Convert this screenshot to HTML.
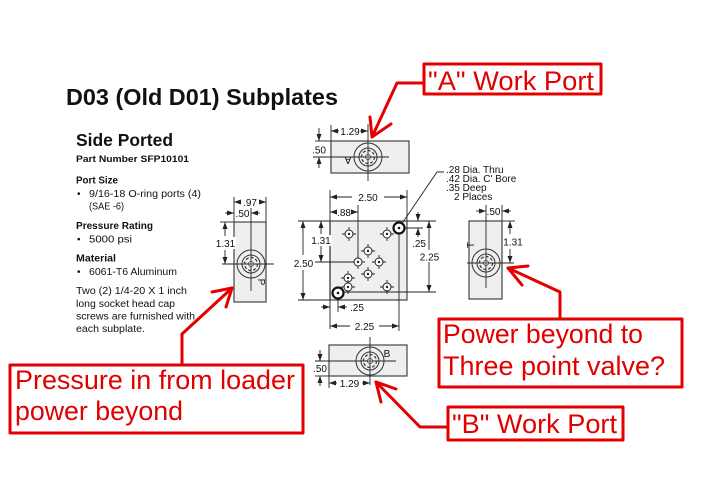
<!DOCTYPE html>
<html><head><meta charset="utf-8"><style>
html,body{margin:0;padding:0;background:#fff;}
svg{display:block;}
</style></head><body>
<svg width="717" height="504" viewBox="0 0 717 504" xmlns="http://www.w3.org/2000/svg" font-family="Liberation Sans, Arial, sans-serif">
<defs>
<marker id="ar" markerWidth="7" markerHeight="5" refX="7" refY="2.5" orient="auto" markerUnits="userSpaceOnUse"><path d="M0,0 L7,2.5 L0,5 z" fill="#222"/></marker>
<g id="port">
  <circle r="14" fill="none" stroke="#333" stroke-width="1"/>
  <circle r="9" fill="none" stroke="#333" stroke-width="1"/>
  <circle r="6.5" fill="none" stroke="#333" stroke-width="1.2" stroke-dasharray="3,2"/>
  <circle r="2.5" fill="#fff" stroke="#333" stroke-width="0.8"/>
  <path d="M-2,0 H2 M0,-2 V2" stroke="#222" stroke-width="0.8"/>
</g>
<g id="hole">
  <circle r="4" fill="#fff" stroke="#222" stroke-width="1"/>
  <circle r="1.2" fill="#222"/>
  <path d="M-7,0 H-4 M4,0 H7 M0,-7 V-4 M0,4 V7" stroke="#222" stroke-width="0.9"/>
</g>
<g id="big">
  <circle r="5.5" fill="#fff" stroke="#111" stroke-width="2.2"/>
  <circle r="1.3" fill="#111"/>
</g>
</defs>
<rect width="717" height="504" fill="#fff"/>

<!-- Title & left column -->
<text x="66" y="105" font-size="23.5" font-weight="bold" fill="#111" textLength="272" lengthAdjust="spacingAndGlyphs">D03 (Old D01) Subplates</text>
<text x="76" y="146" font-size="17.5" font-weight="bold" fill="#111" textLength="97" lengthAdjust="spacingAndGlyphs">Side Ported</text>
<text x="76" y="162" font-size="9.5" font-weight="bold" fill="#111" textLength="113" lengthAdjust="spacingAndGlyphs">Part Number SFP10101</text>
<text x="76" y="183.5" font-size="10" font-weight="bold" fill="#111" textLength="42" lengthAdjust="spacingAndGlyphs">Port Size</text>
<text x="77" y="197" font-size="10" fill="#111">•</text>
<text x="89" y="197" font-size="10" fill="#111" textLength="112" lengthAdjust="spacingAndGlyphs">9/16-18 O-ring ports (4)</text>
<text x="89" y="209.5" font-size="10" fill="#111" textLength="35" lengthAdjust="spacingAndGlyphs">(SAE -6)</text>
<text x="76" y="229" font-size="10" font-weight="bold" fill="#111" textLength="77" lengthAdjust="spacingAndGlyphs">Pressure Rating</text>
<text x="77" y="242.5" font-size="10" fill="#111">•</text>
<text x="89" y="242.5" font-size="10" fill="#111" textLength="43" lengthAdjust="spacingAndGlyphs">5000 psi</text>
<text x="76" y="261.5" font-size="10" font-weight="bold" fill="#111" textLength="40" lengthAdjust="spacingAndGlyphs">Material</text>
<text x="77" y="275" font-size="10" fill="#111">•</text>
<text x="89" y="275" font-size="10" fill="#111" textLength="88" lengthAdjust="spacingAndGlyphs">6061-T6 Aluminum</text>
<text x="76" y="294" font-size="10" fill="#111" textLength="111" lengthAdjust="spacingAndGlyphs">Two (2) 1/4-20 X 1 inch</text>
<text x="76" y="307" font-size="10" fill="#111" textLength="99" lengthAdjust="spacingAndGlyphs">long socket head cap</text>
<text x="76" y="319.5" font-size="10" fill="#111" textLength="119" lengthAdjust="spacingAndGlyphs">screws are furnished with</text>
<text x="76" y="332" font-size="10" fill="#111" textLength="69" lengthAdjust="spacingAndGlyphs">each subplate.</text>

<g stroke="#222" stroke-width="0.9" fill="none">
<!-- ===== Top plate A ===== -->
<rect x="331" y="141" width="78" height="32" fill="#efefef" stroke="#444" stroke-width="1.2"/>
<line x1="368" y1="124" x2="368" y2="181"/>
<line x1="313" y1="157" x2="389" y2="157"/>
<line x1="331" y1="125" x2="331" y2="141"/>
<line x1="315" y1="141" x2="331" y2="141"/>
<line x1="339" y1="131" x2="331" y2="131" marker-end="url(#ar)"/>
<line x1="360" y1="131" x2="368" y2="131" marker-end="url(#ar)"/>
<line x1="319" y1="128" x2="319" y2="141" marker-end="url(#ar)"/>
<line x1="319" y1="168" x2="319" y2="157" marker-end="url(#ar)"/>

<!-- ===== Left plate P ===== -->
<rect x="234" y="222" width="32" height="80" fill="#efefef" stroke="#444" stroke-width="1.2"/>
<line x1="251" y1="208" x2="251" y2="291"/>
<line x1="222" y1="264" x2="274" y2="264"/>
<line x1="234" y1="197" x2="234" y2="222"/>
<line x1="266" y1="197" x2="266" y2="222"/>
<line x1="241" y1="202" x2="234" y2="202" marker-end="url(#ar)"/>
<line x1="259" y1="202" x2="266" y2="202" marker-end="url(#ar)"/>
<line x1="225" y1="213" x2="234" y2="213" marker-end="url(#ar)"/>
<line x1="260" y1="213" x2="251" y2="213" marker-end="url(#ar)"/>
<line x1="220" y1="222" x2="234" y2="222"/>
<line x1="225" y1="236" x2="225" y2="222" marker-end="url(#ar)"/>
<line x1="225" y1="250" x2="225" y2="264" marker-end="url(#ar)"/>

<!-- ===== Main plate ===== -->
<rect x="330" y="221" width="77" height="79" fill="#efefef" stroke="#444" stroke-width="1.2"/>
<line x1="330" y1="190" x2="330" y2="329"/>
<line x1="407" y1="190" x2="407" y2="221"/>
<line x1="352" y1="197" x2="330" y2="197" marker-end="url(#ar)"/>
<line x1="384" y1="197" x2="407" y2="197" marker-end="url(#ar)"/>
<line x1="336" y1="212" x2="330" y2="212" marker-end="url(#ar)"/>
<line x1="352" y1="212" x2="358" y2="212" marker-end="url(#ar)"/>
<line x1="358" y1="205" x2="358" y2="262"/>
<line x1="315" y1="262" x2="358" y2="262"/>
<line x1="298" y1="221" x2="330" y2="221"/>
<line x1="298" y1="300" x2="330" y2="300"/>
<line x1="303" y1="255" x2="303" y2="221" marker-end="url(#ar)"/>
<line x1="303" y1="270" x2="303" y2="300" marker-end="url(#ar)"/>
<line x1="321" y1="234" x2="321" y2="221" marker-end="url(#ar)"/>
<line x1="321" y1="246" x2="321" y2="262" marker-end="url(#ar)"/>
<!-- right dims -->
<line x1="407" y1="221" x2="436" y2="221"/>
<line x1="399" y1="228" x2="423" y2="228"/>
<line x1="338" y1="292" x2="436" y2="292"/>
<line x1="429" y1="250" x2="429" y2="221" marker-end="url(#ar)"/>
<line x1="429" y1="262" x2="429" y2="292" marker-end="url(#ar)"/>
<line x1="418" y1="212" x2="418" y2="221" marker-end="url(#ar)"/>
<line x1="418" y1="237" x2="418" y2="228" marker-end="url(#ar)"/>
<!-- bottom dims -->
<line x1="399" y1="228" x2="399" y2="331"/>
<line x1="338" y1="293" x2="338" y2="312"/>
<line x1="321" y1="307" x2="330" y2="307" marker-end="url(#ar)"/>
<line x1="347" y1="307" x2="338" y2="307" marker-end="url(#ar)"/>
<line x1="350" y1="326" x2="330" y2="326" marker-end="url(#ar)"/>
<line x1="379" y1="326" x2="399" y2="326" marker-end="url(#ar)"/>
<!-- leader -->
<polyline points="401,225 437,172 444,172"/>

<!-- ===== Right plate T ===== -->
<rect x="469" y="221" width="33" height="78" fill="#efefef" stroke="#444" stroke-width="1.2"/>
<line x1="486" y1="205" x2="486" y2="288"/>
<line x1="467" y1="263" x2="514" y2="263"/>
<line x1="502" y1="205" x2="502" y2="221"/>
<line x1="476" y1="211" x2="486" y2="211" marker-end="url(#ar)"/>
<line x1="511" y1="211" x2="502" y2="211" marker-end="url(#ar)"/>
<line x1="502" y1="221" x2="515" y2="221"/>
<line x1="510" y1="234" x2="510" y2="221" marker-end="url(#ar)"/>
<line x1="510" y1="249" x2="510" y2="263" marker-end="url(#ar)"/>

<!-- ===== Bottom plate B ===== -->
<rect x="329" y="345" width="78" height="31" fill="#efefef" stroke="#444" stroke-width="1.2"/>
<line x1="370" y1="337" x2="370" y2="385"/>
<line x1="315" y1="361" x2="396" y2="361"/>
<line x1="315" y1="376" x2="329" y2="376"/>
<line x1="329" y1="376" x2="329" y2="388"/>
<line x1="320" y1="350" x2="320" y2="361" marker-end="url(#ar)"/>
<line x1="320" y1="386" x2="320" y2="376" marker-end="url(#ar)"/>
<line x1="337" y1="383" x2="329" y2="383" marker-end="url(#ar)"/>
<line x1="362" y1="383" x2="370" y2="383" marker-end="url(#ar)"/>
</g>

<!-- ports -->
<use href="#port" x="368" y="157"/>
<use href="#port" x="251" y="264"/>
<use href="#port" x="486" y="263"/>
<use href="#port" x="370" y="361"/>
<!-- holes -->
<use href="#hole" x="349" y="234"/>
<use href="#hole" x="387" y="234"/>
<use href="#hole" x="368" y="251"/>
<use href="#hole" x="358" y="262"/>
<use href="#hole" x="379" y="262"/>
<use href="#hole" x="368" y="274"/>
<use href="#hole" x="348" y="278"/>
<use href="#hole" x="348" y="287"/>
<use href="#hole" x="387" y="287"/>
<use href="#big" x="399" y="228"/>
<use href="#big" x="338" y="293"/>

<!-- dimension labels -->
<g font-size="10" fill="#111">
<rect x="341" y="126" width="18" height="10" fill="#fff"/>
<text x="350" y="135" text-anchor="middle">1.29</text>
<rect x="312" y="143" width="14" height="12" fill="#fff"/>
<text x="319" y="153.5" text-anchor="middle">.50</text>
<text x="348" y="163" font-size="10" text-anchor="middle" transform="rotate(180 348 160)">A</text>

<text x="250" y="206" text-anchor="middle">.97</text>
<text x="242.5" y="217" text-anchor="middle">.50</text>
<rect x="215" y="237" width="21" height="12" fill="#fff"/>
<text x="225.5" y="247" text-anchor="middle">1.31</text>
<text x="258" y="282" text-anchor="middle" transform="rotate(90 258 282)">P</text>

<text x="368" y="201" text-anchor="middle">2.50</text>
<text x="344" y="216" text-anchor="middle">.88</text>
<rect x="293" y="257" width="21" height="12" fill="#fff"/>
<text x="303.5" y="267" text-anchor="middle">2.50</text>
<rect x="311" y="235" width="21" height="11" fill="#fff"/>
<text x="321" y="244" text-anchor="middle">1.31</text>
<rect x="419" y="251" width="21" height="11" fill="#fff"/>
<text x="429.5" y="260.5" text-anchor="middle">2.25</text>
<text x="419" y="247" text-anchor="middle">.25</text>
<text x="350" y="311">.25</text>
<text x="364.5" y="330" text-anchor="middle">2.25</text>

<text x="446" y="173" font-size="10">.28 Dia. Thru</text>
<text x="446" y="182" font-size="10">.42 Dia. C' Bore</text>
<text x="446" y="191" font-size="10">.35 Deep</text>
<text x="454" y="200" font-size="10">2 Places</text>

<text x="493.5" y="215" text-anchor="middle">.50</text>
<rect x="504" y="236" width="19" height="11" fill="#fff"/>
<text x="513" y="245.5" text-anchor="middle">1.31</text>
<text x="474" y="245" text-anchor="middle" transform="rotate(-90 474 245)">T</text>

<text x="387" y="357" text-anchor="middle">B</text>
<rect x="312" y="363" width="15" height="11" fill="#fff"/>
<text x="320" y="372" text-anchor="middle">.50</text>
<rect x="338" y="378" width="23" height="10" fill="#fff"/>
<text x="349.5" y="387" text-anchor="middle">1.29</text>
</g>

<!-- ===== Red annotations ===== -->
<g stroke="#e40000" stroke-width="3" fill="none" stroke-linecap="round" stroke-linejoin="round">
<rect x="424" y="64" width="177" height="30" fill="#fff"/>
<polyline points="424,83 397,83 372,137"/>
<polyline points="370,117 372,137 391,124"/>

<rect x="10" y="365" width="293" height="68" fill="#fff"/>
<polyline points="182,365 182,334 232,288"/>
<polyline points="212,292 232,288 226,307"/>

<rect x="439" y="319" width="243" height="68" fill="#fff"/>
<polyline points="560,319 560,292 508,268"/>
<polyline points="528,266 508,268 522,285"/>

<rect x="448" y="407" width="175" height="33" fill="#fff"/>
<polyline points="448,427 420,427 376,382"/>
<polyline points="396,389 376,382 381,402"/>
</g>
<g fill="#e00000" font-size="26.5">
<text x="428" y="90" textLength="166" lengthAdjust="spacingAndGlyphs">"A" Work Port</text>
<text x="15" y="389" textLength="280" lengthAdjust="spacingAndGlyphs">Pressure in from loader</text>
<text x="15" y="420" textLength="168" lengthAdjust="spacingAndGlyphs">power beyond</text>
<text x="443" y="343" textLength="200" lengthAdjust="spacingAndGlyphs">Power beyond to</text>
<text x="443" y="375" textLength="222" lengthAdjust="spacingAndGlyphs">Three point valve?</text>
<text x="452" y="433" textLength="165" lengthAdjust="spacingAndGlyphs">"B" Work Port</text>
</g>
</svg>
</body></html>
